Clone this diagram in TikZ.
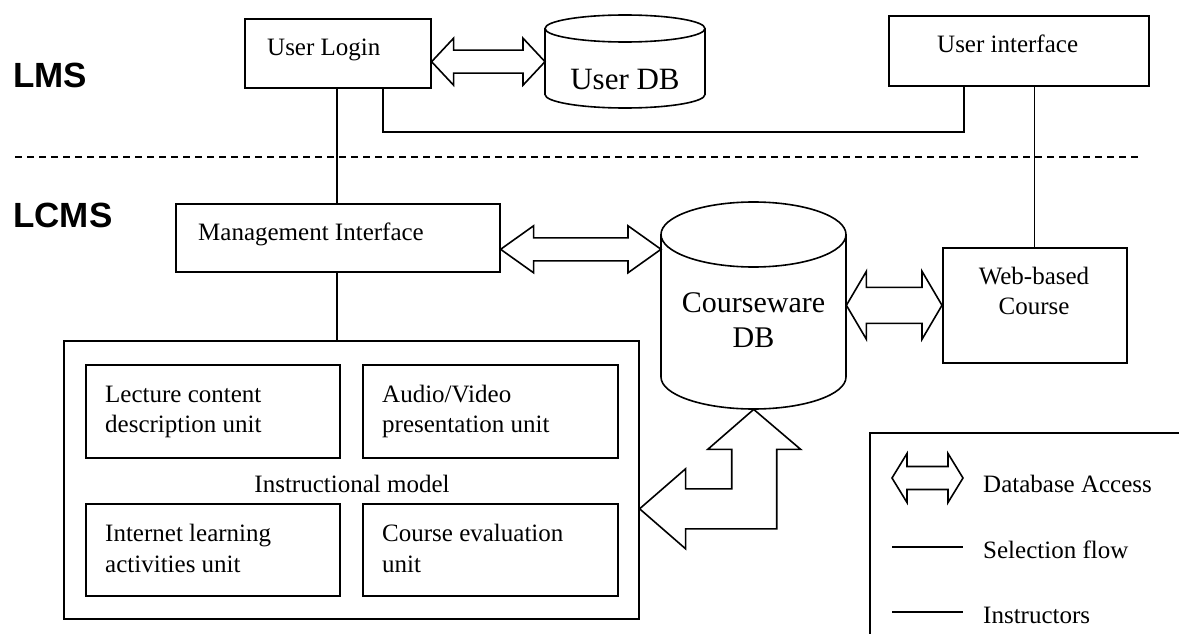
\documentclass[tikz,border=0pt]{standalone}
\usepackage{fontspec}
\setmainfont{Liberation Serif}
\newfontfamily\labelfont{Liberation Sans}
\usetikzlibrary{calc}
\newcommand\dblarrow[5]{% #1 left, #2 right, #3 head half width, #4 shaft half width, #5 head length
  \draw[blk] let \p1=(#1), \p2=(#2) in
    (\x1,\y1) -- (\x1+#5,\y1+#3) -- (\x1+#5,\y1+#4) -- (\x2-#5,\y1+#4) -- (\x2-#5,\y1+#3)
    -- (\x2,\y1) -- (\x2-#5,\y1-#3) -- (\x2-#5,\y1-#4) -- (\x1+#5,\y1-#4) -- (\x1+#5,\y1-#3) -- cycle;}
\begin{document}
\begin{tikzpicture}[x=1pt,y=-1pt,
  box/.style={draw, line width=1.6pt, inner sep=0pt, anchor=north west},
  area/.style={inner sep=0pt, anchor=north west},
  conn/.style={line width=1.3pt},
  blk/.style={draw, line width=1.6pt, line join=miter, fill=white},
  cyl/.style={draw, line width=1.6pt},
  txt/.style={inner sep=0pt, anchor=base west, font=\fontsize{25}{30}\selectfont},
  ctxt/.style={inner sep=0pt, anchor=base, font=\fontsize{25}{30}\selectfont},
  big/.style={inner sep=0pt, anchor=base, font=\fontsize{31}{36}\selectfont},
  layer/.style={inner sep=0pt, anchor=base west, font=\labelfont\bfseries\fontsize{35}{40}\selectfont},
  sep/.style={line width=1.5pt, dash pattern=on 7pt off 5pt}]
\useasboundingbox (0,0) rectangle (1179,634);
\clip (0,0) rectangle (1179,634);

% layer labels
\node[layer] (lms) at (13,88) {LMS};
\node[layer] (lcms) at (13,227) {LCMS};

% separator
\coordinate (sepL) at (15,157);
\coordinate (sepR) at (1140,157);
\draw[sep] (sepL) -- (sepR);

% LMS boxes
\node[box, minimum width=186, minimum height=69] (login) at (244,18) {};
\node[txt] (login-t) at (267,56) {User Login};
\node[box, minimum width=260, minimum height=70] (ui) at (888,15) {};
\node[txt] (ui-t) at (937,53) {User interface};

% User DB cylinder
\node[area, minimum width=160, minimum height=93] (userdb) at (545,15) {};
\draw[cyl, fill=white] (545,28.5) -- (545,94.5)
  arc[start angle=180, end angle=360, x radius=80pt, y radius=13.5pt] -- (705,28.5);
\draw[cyl] (625,28.5) ellipse[x radius=80pt, y radius=13.5pt];
\node[big] (userdb-t) at (625,90) {User DB};

% LCMS boxes
\node[box, minimum width=324, minimum height=68] (mgmt) at (175,203) {};
\node[txt] (mgmt-t) at (198,240) {Management Interface};

\node[area, minimum width=185, minimum height=207] (cdb) at (661,202) {};
\draw[cyl] (661,234.5) -- (661,377)
  arc[start angle=180, end angle=360, x radius=92.5pt, y radius=32pt] -- (846,234.5);
\draw[cyl] (753.5,234.5) ellipse[x radius=92.5pt, y radius=32.5pt];
\node[big, font=\fontsize{30}{35}\selectfont] (cdb-t1) at (753.5,312) {Courseware};
\node[big, font=\fontsize{30}{35}\selectfont] (cdb-t2) at (753.5,347) {DB};

\node[box, minimum width=184, minimum height=115] (web) at (942,247) {};
\node[ctxt] (web-t1) at (1034,284) {Web-based};
\node[ctxt] (web-t2) at (1034,314) {Course};

% instructional model
\node[box, minimum width=575, minimum height=278] (model) at (63,340) {};
\node[box, minimum width=254, minimum height=93] (lc) at (85,364) {};
\node[box, minimum width=255, minimum height=93] (av) at (362,364) {};
\node[box, minimum width=254, minimum height=92] (il) at (85,503) {};
\node[box, minimum width=255, minimum height=92] (ce) at (362,503) {};
\node[txt] (lc-t1) at (105,402) {Lecture content};
\node[txt] (lc-t2) at (105,432) {description unit};
\node[txt] (av-t1) at (382,402) {Audio/Video};
\node[txt] (av-t2) at (382,432) {presentation unit};
\node[txt] (il-t1) at (105,541) {Internet learning};
\node[txt] (il-t2) at (105,572) {activities unit};
\node[txt] (ce-t1) at (382,541) {Course evaluation};
\node[txt] (ce-t2) at (382,572) {unit};
\node[ctxt] (model-t) at (352,492) {Instructional model};

% selection-flow connectors
\coordinate (x337) at (337,0);
\coordinate (bend1) at (383,132);
\coordinate (bend2) at (964,132);
\draw[conn] (login.south -| x337) -- (mgmt.north -| x337);
\draw[conn] (mgmt.south -| x337) -- (model.north -| x337);
\draw[conn] (login.south -| bend1) -- (bend1) -- (bend2) -- (ui.south -| bend2);
\draw[conn] (web.north |- ui.south) -- (web.north);

% database access arrows
\dblarrow{login.east |- userdb.west}{userdb.west}{23.5pt}{11.5pt}{22pt}
\coordinate (ma) at ($(mgmt.east)+(0,11.5)$);
\dblarrow{ma}{cdb.west |- ma}{23.5pt}{11.5pt}{33pt}
\dblarrow{cdb.east |- web.west}{web.west}{34pt}{18pt}{20pt}
\coordinate (mt) at ($(model.east)+(0,29)$);
\draw[blk] let \p1=(mt), \p2=(cdb.south) in
  (\x1,\y1) -- (\x1+46pt,\y1+40pt) -- (\x1+46pt,\y1+20pt) -- (\x2-22pt,\y1+20pt)
  -- (\x2-22pt,\y2-40pt) -- (\x2-46pt,\y2-40pt) -- (\x2,\y2) -- (\x2+47pt,\y2-40pt)
  -- (\x2+23pt,\y2-40pt) -- (\x2+23pt,\y1-20pt) -- (\x1+46pt,\y1-20pt)
  -- (\x1+46pt,\y1-40pt) -- cycle;

% legend
\node[box, minimum width=400, minimum height=300] (legend) at (869,432) {};
\coordinate (lg1) at (892,478);
\coordinate (lg2) at (963,478);
\dblarrow{lg1}{lg2}{24.5pt}{11.5pt}{15pt}
\coordinate (ls1) at (892,547);
\coordinate (ls2) at (963,547);
\draw[conn] (ls1) -- (ls2);
\coordinate (li1) at (892,612);
\coordinate (li2) at (963,612);
\draw[conn] (li1) -- (li2);
\node[txt] (lg-t1) at (983,492) {Database Access};
\node[txt] (lg-t2) at (983,558) {Selection flow};
\node[txt] (lg-t3) at (983,623) {Instructors};
\end{tikzpicture}
\end{document}
